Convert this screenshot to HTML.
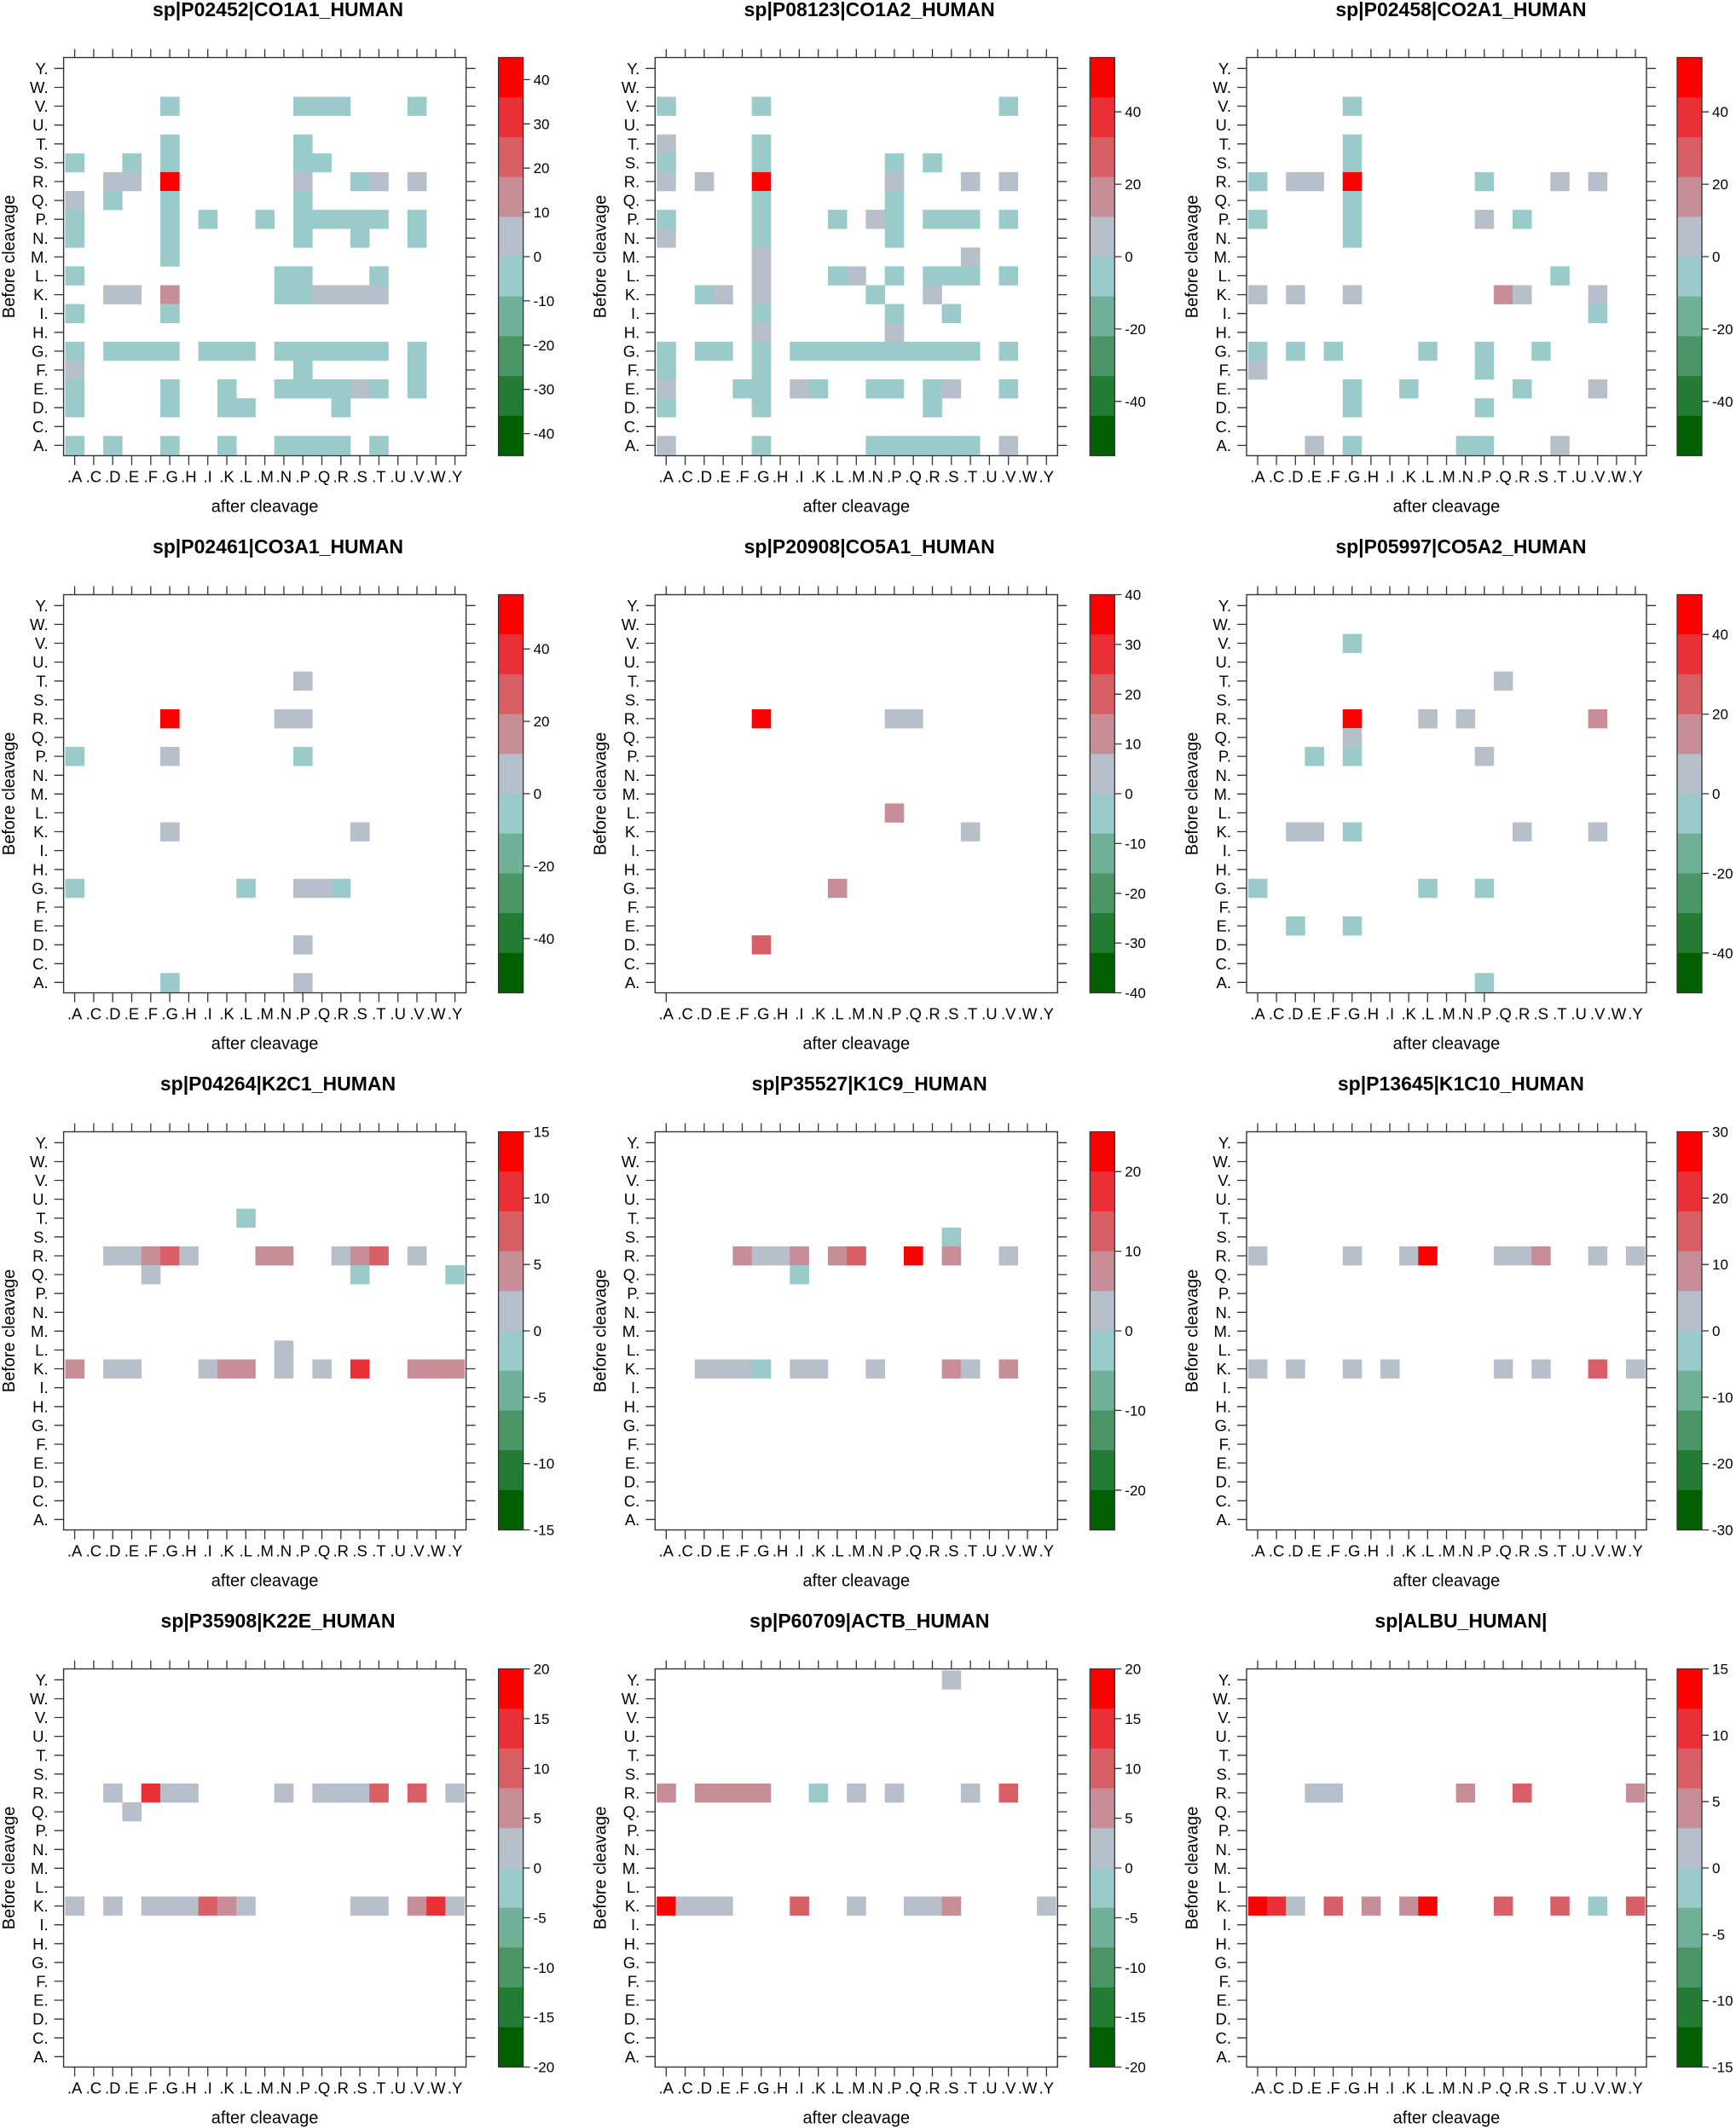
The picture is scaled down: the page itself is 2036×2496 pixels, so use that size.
<!DOCTYPE html>
<html><head><meta charset="utf-8"><style>
html,body{margin:0;padding:0;background:#fff;}
svg{display:block;}
text{font-family:"Liberation Sans",Arial,sans-serif;fill:#000;}
</style></head><body>
<svg id="s" width="2036" height="2496" viewBox="0 0 2036 2496" xmlns="http://www.w3.org/2000/svg"></svg>
<script>
var XL=['.A','.C','.D','.E','.F','.G','.H','.I','.K','.L','.M','.N','.P','.Q','.R','.S','.T','.U','.V','.W','.Y'];
var YL=['A.','C.','D.','E.','F.','G.','H.','I.','K.','L.','M.','N.','P.','Q.','R.','S.','T.','U.','V.','W.','Y.'];
var AA='ACDEFGHIKLMNPQRSTUVWY';
var COL={r:'#FF0000',o:'#E93036',m:'#D95F67',p:'#C78E98',g:'#B7BFCB',t:'#9ACBCA'};
var BAR=['#FF0000','#E93036','#D95F67','#C78E98','#B7BFCB','#9ACBCA','#72B199','#4A9666','#237B34','#005F00'];
var P=[
{t:'sp|P02452|CO1A1_HUMAN',m:45,ticks:[-40,-30,-20,-10,0,10,20,30,40],bt:21,d:{
V:'Gt Pt Qt Rt Vt',T:'Gt Pt',S:'At Et Gt Pt Qt',R:'Dg Eg Gr Pg St Tg Vg',Q:'Ag Dt Gt Pt',
P:'At Gt It Mt Pt Qt Rt St Tt Vt',N:'At Gt Pt St Vt',M:'Gt',L:'At Nt Pt Tt',K:'Dg Eg Gp Nt Pt Qg Rg Sg Tg',
I:'At Gt',G:'At Dt Et Ft Gt It Kt Lt Nt Pt Qt Rt St Tt Vt',F:'Ag Pt Vt',E:'At Gt Kt Nt Pt Qt Rt Sg Tt Vt',
D:'At Gt Kt Lt Rt',A:'At Dt Gt Kt Nt Pt Qt Rt Tt'}},
{t:'sp|P08123|CO1A2_HUMAN',m:55,ticks:[-40,-20,0,20,40],bt:21,d:{
V:'At Gt Vt',T:'Ag Gt',S:'At Gt Pt Rt',R:'Ag Dg Gr Pg Tg Vg',Q:'Gt Pt',P:'At Gt Lt Ng Pt Rt St Tt Vt',
N:'Ag Gt Pt',M:'Gg Tg',L:'Gg Lt Mg Pt Rt St Tt Vt',K:'Dt Eg Gg Nt Rg',I:'Gt Pt St',H:'Gg Pg',
G:'At Dt Et Gt It Kt Lt Mt Nt Pt Qt Rt St Tt Vt',F:'At Gt',E:'Ag Ft Gt Ig Kt Nt Pt Rt Sg Vt',D:'At Gt Rt',
A:'Ag Gt Nt Pt Qt Rt St Tt Vg'}},
{t:'sp|P02458|CO2A1_HUMAN',m:55,ticks:[-40,-20,0,20,40],bt:21,d:{
V:'Gt',T:'Gt',S:'Gt',R:'At Dg Eg Gr Pt Tg Vg',Q:'Gt',P:'At Gt Pg Rt',N:'Gt',L:'Tt',K:'Ag Dg Gg Qp Rg Vg',
I:'Vt',G:'At Dt Ft Lt Pt St',F:'Ag Pt',E:'Gt Kt Rt Vg',D:'Gt Pt',A:'Eg Gt Nt Pt Tg'}},
{t:'sp|P02461|CO3A1_HUMAN',m:55,ticks:[-40,-20,0,20,40],bt:21,d:{
T:'Pg',R:'Gr Ng Pg',P:'At Gg Pt',K:'Gg Sg',G:'At Lt Pg Qg Rt',D:'Pg',A:'Gt Pg'}},
{t:'sp|P20908|CO5A1_HUMAN',m:40,ticks:[-40,-30,-20,-10,0,10,20,30,40],bt:1,d:{
R:'Gr Pg Qg',L:'Pp',K:'Tg',G:'Lp',D:'Gm'}},
{t:'sp|P05997|CO5A2_HUMAN',m:50,ticks:[-40,-20,0,20,40],bt:13,d:{
V:'Gt',T:'Qg',R:'Gr Lg Ng Vp',Q:'Gg',P:'Et Gt Pg',K:'Dg Eg Gt Rg Vg',G:'At Lt Pt',E:'Dt Gt',A:'Pt'}},
{t:'sp|P04264|K2C1_HUMAN',m:15,ticks:[-15,-10,-5,0,5,10,15],bt:21,d:{
T:'Lt',R:'Dg Eg Fp Gm Hg Mp Np Rg Sp Tm Vg',Q:'Fg St Yt',L:'Ng',K:'Ap Dg Eg Ig Kp Lp Ng Qg So Vp Wp Yp'}},
{t:'sp|P35527|K1C9_HUMAN',m:25,ticks:[-20,-10,0,10,20],bt:21,d:{
S:'St',R:'Fp Gg Hg Ip Lp Mm Qr Sp Vg',Q:'It',K:'Dg Eg Fg Gt Ig Kg Ng Sp Tg Vp'}},
{t:'sp|P13645|K1C10_HUMAN',m:30,ticks:[-30,-20,-10,0,10,20,30],bt:21,d:{
R:'Ag Gg Kg Lr Qg Rg Sp Vg Yg',K:'Ag Dg Gg Ig Qg Sg Vm Yg'}},
{t:'sp|P35908|K22E_HUMAN',m:20,ticks:[-20,-15,-10,-5,0,5,10,15,20],bt:21,d:{
R:'Dg Fo Gg Hg Ng Qg Rg Sg Tm Vm Yg',Q:'Eg',K:'Ag Dg Fg Gg Hg Im Kp Lg Sg Tg Vp Wo Yg'}},
{t:'sp|P60709|ACTB_HUMAN',m:20,ticks:[-20,-15,-10,-5,0,5,10,15,20],bt:21,d:{
Y:'Sg',R:'Ap Dp Ep Fp Gp Kt Mg Pg Tg Vm',K:'Ar Cg Dg Eg Im Mg Qg Rg Sp Yg'}},
{t:'sp|ALBU_HUMAN|',m:15,ticks:[-15,-10,-5,0,5,10,15],bt:21,d:{
R:'Eg Fg Np Rm Yp',K:'Ar Co Dg Fm Hp Kp Lr Qm Tm Vt Ym'}}
];
var o=[];
var H=467,CH=22.1,PX=1.9,PY=1.8;
P.forEach(function(p,i){
 var c=i%3,r=Math.floor(i/3);
 var W=(c==2)?469:472, CW=(W-3.8)/21, CB=(c==2)?505:510;
 var ox=c*693.7,oy=r*630;
 var x0=ox+74.6,y0=oy+67.5;
 o.push('<text x="'+(ox+326)+'" y="'+(oy+19)+'" text-anchor="middle" font-size="23" font-weight="bold">'+p.t+'</text>');
 for(var row in p.d){
  var ri=AA.indexOf(row);
  p.d[row].split(' ').forEach(function(s){
   var ci=AA.indexOf(s[0]);
   var x=x0+PX+ci*CW, y=y0+PY+(20-ri)*CH;
   o.push('<rect x="'+x.toFixed(1)+'" y="'+y.toFixed(1)+'" width="'+(CW+0.3).toFixed(1)+'" height="'+(CH+0.3)+'" fill="'+COL[s[1]]+'"/>');
  });
 }
 o.push('<rect x="'+x0+'" y="'+y0+'" width="'+W+'" height="'+H+'" fill="none" stroke="#333" stroke-width="1.4"/>');
 var tk='';
 for(var k=0;k<21;k++){
  var cx=x0+PX+(k+0.5)*CW;
  tk+='M'+cx.toFixed(1)+' '+y0+'v-10';
  if(k<p.bt) tk+='M'+cx.toFixed(1)+' '+(y0+H)+'v11';
  o.push('<text x="'+cx.toFixed(1)+'" y="'+(y0+H+31)+'" text-anchor="middle" font-size="18.5">'+XL[k]+'</text>');
  var cy=y0+PY+(20-k+0.5)*CH;
  tk+='M'+(x0-11)+' '+cy.toFixed(1)+'h11M'+(x0+W)+' '+cy.toFixed(1)+'h11';
  o.push('<text x="'+(x0-18)+'" y="'+(cy+6.5).toFixed(1)+'" text-anchor="end" font-size="18.5">'+YL[k]+'</text>');
 }
 o.push('<path d="'+tk+'" stroke="#333" stroke-width="1.3" fill="none"/>');
 o.push('<text x="'+(x0+W/2)+'" y="'+(y0+H+66)+'" text-anchor="middle" font-size="20">after cleavage</text>');
 o.push('<text transform="translate('+(ox+17)+','+(y0+H/2)+') rotate(-90)" text-anchor="middle" font-size="20">Before cleavage</text>');
 var bx=x0+CB,bw=29,bh=H/10;
 BAR.forEach(function(col,j){o.push('<rect x="'+bx+'" y="'+(y0+j*bh).toFixed(1)+'" width="'+bw+'" height="'+(bh+0.4).toFixed(1)+'" fill="'+col+'"/>');});
 o.push('<rect x="'+bx+'" y="'+y0+'" width="'+bw+'" height="'+H+'" fill="none" stroke="#333" stroke-width="1.3"/>');
 var ct='';
 p.ticks.forEach(function(v){
  var y=y0+H*(p.m-v)/(2*p.m);
  ct+='M'+(bx+bw)+' '+y.toFixed(1)+'h8';
  o.push('<text x="'+(bx+bw+12)+'" y="'+(y+6).toFixed(1)+'" font-size="17">'+v+'</text>');
 });
 o.push('<path d="'+ct+'" stroke="#333" stroke-width="1.3" fill="none"/>');
});
document.getElementById('s').innerHTML=o.join('');
</script>
</body></html>
